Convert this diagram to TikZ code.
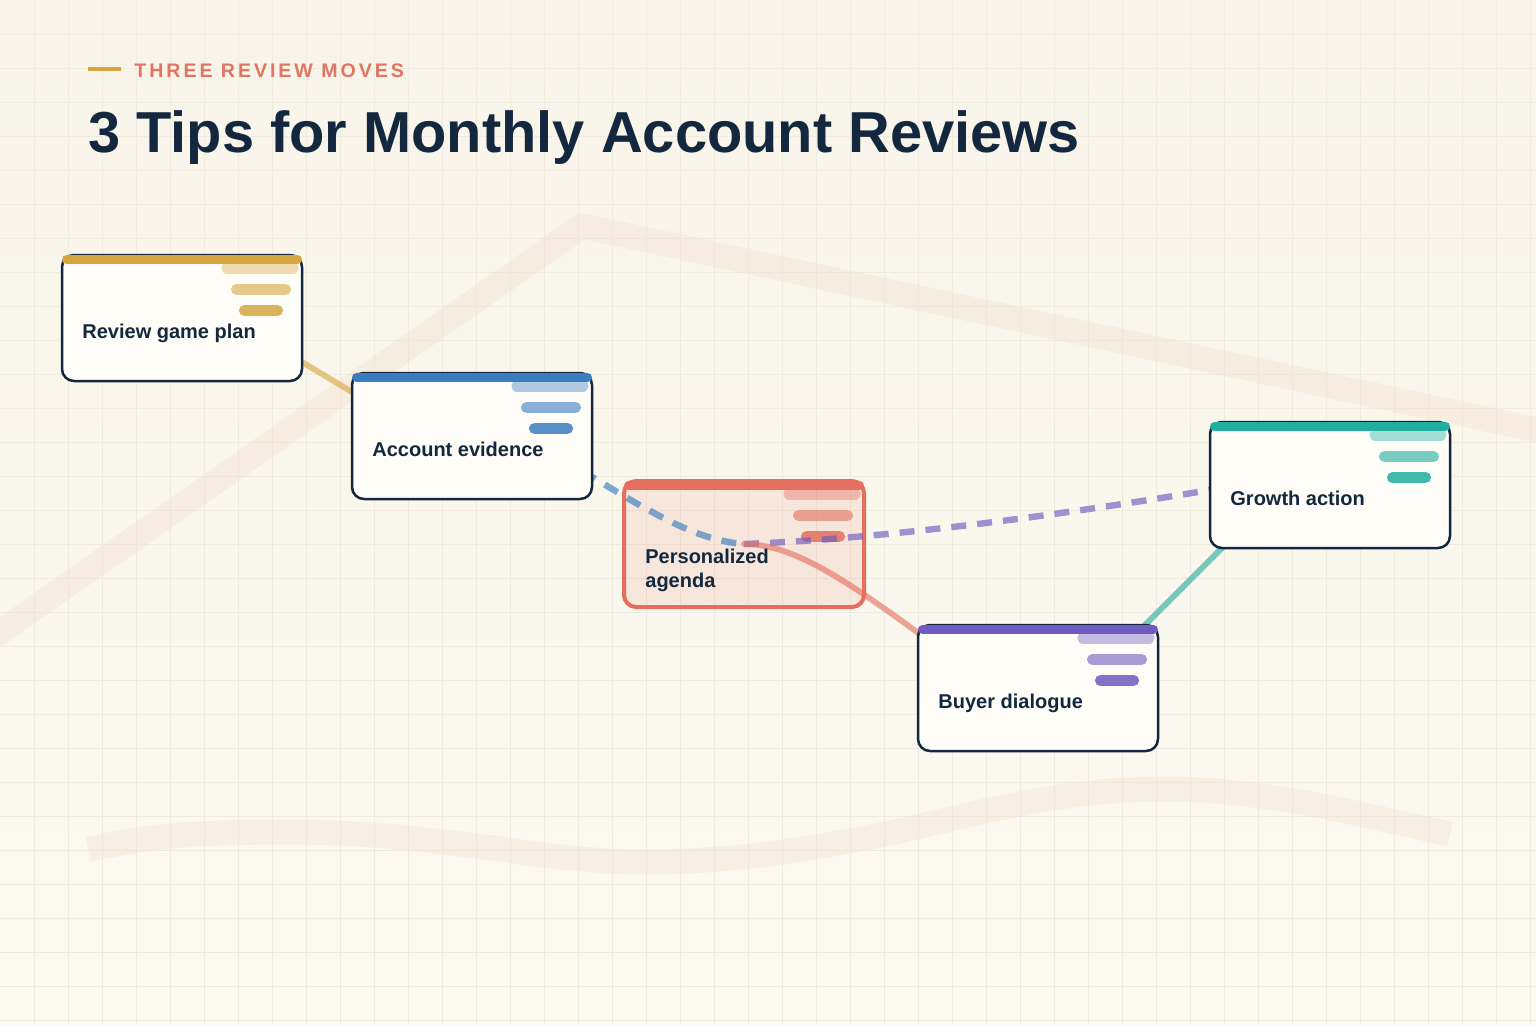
\documentclass[tikz,border=0pt]{standalone}
\usepackage{fontspec}
\setmainfont{Liberation Sans}
\newfontfamily\kickerfont[LetterSpace=15]{Liberation Sans}
\usetikzlibrary{calc}
\definecolor{bgtop}{HTML}{F8F4E9}
\definecolor{bgbot}{HTML}{FCFAF1}
\definecolor{gridc}{HTML}{F0EBDF}
\definecolor{bandc}{HTML}{F0D6C8}
\definecolor{navy}{HTML}{13283F}
\definecolor{cardfill}{HTML}{FEFDF7}
\definecolor{cgold}{HTML}{D6A741}
\definecolor{cblue}{HTML}{3A7DC0}
\definecolor{cred}{HTML}{E46F5F}
\definecolor{cteal}{HTML}{1FAE9F}
\definecolor{cpurple}{HTML}{6E5BBF}
\definecolor{kicker}{HTML}{E07563}
\tikzset{
  card/.style={rectangle, draw=navy, line width=1.25pt, rounded corners=6pt, fill=cardfill,
    minimum width=120pt, minimum height=63pt, inner sep=0pt, outer sep=0pt},
  cardlabel/.style={font=\bfseries\fontsize{10}{12}\selectfont, text=navy, inner sep=0pt, anchor=base west},
  topbar/.style={line width=4.5pt, line cap=round},
  barline/.style={line width=5.6pt, line cap=round},
  link/.style={line width=2.9pt, line cap=round, opacity=.62},
  dlink/.style={line width=3.2pt, dash pattern=on 7.5pt off 5.5pt, opacity=.65},
  band/.style={line width=12.5pt, bandc, opacity=.28},
}
\newcommand{\cardbars}[2]{%
  \draw[barline,#2,opacity=.4] ($(#1.north west)+(165,13)$) -- ($(#1.north west)+(231,13)$);
  \draw[barline,#2,opacity=.6] ($(#1.north west)+(174.5,34.5)$) -- ($(#1.north west)+(223.5,34.5)$);
  \draw[barline,#2,opacity=.85] ($(#1.north west)+(182.5,55.5)$) -- ($(#1.north west)+(215.5,55.5)$);
  \draw[topbar,#2] ($(#1.north west)+(4.5,4.5)$) -- ($(#1.north east)+(-4.5,4.5)$);
}
\begin{document}
\begin{tikzpicture}[x=0.5pt,y=-0.5pt]
  % background
  \shade[top color=bgtop, bottom color=bgbot] (0,0) rectangle (1536,1024);
  \useasboundingbox (0,0) rectangle (1536,1024);
  \foreach \g in {34,68,...,1530} \draw[gridc, line width=0.45pt] (\g,0) -- (\g,1024);
  \foreach \g in {34,68,...,1020} \draw[gridc, line width=0.45pt] (0,\g) -- (1536,\g);
  \draw[band, line join=miter] (-20,646) -- (582,226) -- (1570,437);
  \draw[band] plot[smooth, tension=0.6] coordinates {(88,849) (170,836) (273,832) (373,835) (477,846) (560,857) (650,862) (760,855) (880,835) (1000,808) (1100,792) (1200,790) (1300,802) (1400,823) (1450,834)};

  % header
  \draw[cgold, line width=2pt] (88,69) -- (121,69);
  \node[anchor=base west, font=\kickerfont\bfseries\fontsize{9.8}{12}\selectfont, text=kicker, inner sep=0pt] (kick) at (134,77) {THREE REVIEW MOVES};
  \node[anchor=base west, font=\bfseries\fontsize{28.9}{34}\selectfont, text=navy, inner sep=0pt] (title) at (88,152) {3 Tips for Monthly Account Reviews};

  % agenda card (translucent, below the links)
  \node[card, anchor=north west, draw=cred, line width=2pt, fill=cred, fill opacity=.12] (agenda) at (624,481) {};
  \cardbars{agenda}{cred}

  % named positions for other cards
  \node[card, anchor=north west, draw=none, fill=none] (review) at (62,255) {};
  \node[card, anchor=north west, draw=none, fill=none] (account) at (352,373) {};
  \node[card, anchor=north west, draw=none, fill=none] (growth) at (1210,422) {};
  \node[card, anchor=north west, draw=none, fill=none] (buyer) at (918,625) {};

  % connectors
  \draw[link, cgold] ($(review.south east)+(-20,-31)$) -- ($(account.north west)+(20,31)$);
  \draw[dlink, cblue] ($(account.center)+(88,22)$) .. controls (640,505) and (690,540) .. (agenda.center);
  \draw[dlink, cpurple] (agenda.center) .. controls (850,540) and (1000,525) .. ($(growth.west)+(0,5)$);
  \draw[link, cred] (agenda.center) .. controls (790,544) and (840,575) .. ($(buyer.north west)+(7,13)$);
  \draw[link, cteal] ($(buyer.north east)+(-23,10)$) -- ($(growth.south west)+(22,-10)$);

  % opaque cards
  \node[card, anchor=north west] (reviewbox) at (review.north west) {};
  \node[card, anchor=north west] (accountbox) at (account.north west) {};
  \node[card, anchor=north west] (growthbox) at (growth.north west) {};
  \node[card, anchor=north west] (buyerbox) at (buyer.north west) {};
  \cardbars{reviewbox}{cgold}
  \cardbars{accountbox}{cblue}
  \cardbars{growthbox}{cteal}
  \cardbars{buyerbox}{cpurple}

  % labels
  \node[cardlabel] (l1) at ($(reviewbox.north west)+(20,83)$) {Review game plan};
  \node[cardlabel] (l2) at ($(accountbox.north west)+(20,83)$) {Account evidence};
  \node[cardlabel] (l3a) at ($(agenda.north west)+(21,82)$) {Personalized};
  \node[cardlabel] (l3b) at ($(agenda.north west)+(21,106)$) {agenda};
  \node[cardlabel] (l4) at ($(growthbox.north west)+(20,83)$) {Growth action};
  \node[cardlabel] (l5) at ($(buyerbox.north west)+(20,83)$) {Buyer dialogue};
\end{tikzpicture}
\end{document}
